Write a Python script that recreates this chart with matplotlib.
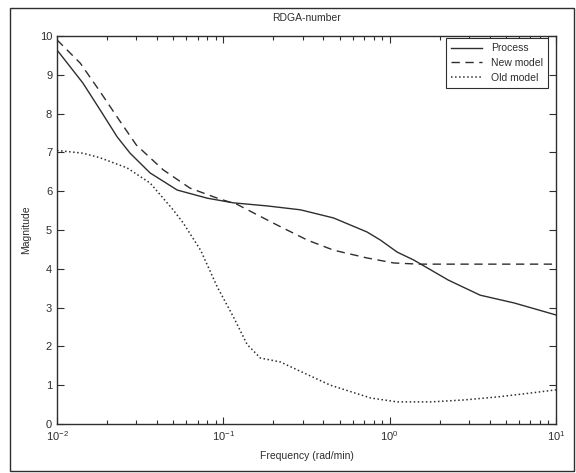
import matplotlib
matplotlib.use("Agg")
import matplotlib.pyplot as plt
from matplotlib.patches import Rectangle
from matplotlib.ticker import LogLocator, FixedLocator

plt.rcParams['font.family'] = ['Liberation Sans', 'DejaVu Sans']

# frequency response magnitudes (rad/min)
process_freq = [0.01, 0.0143, 0.0182, 0.023, 0.0275, 0.0363, 0.0528, 0.08, 0.115,
                0.184, 0.291, 0.46, 0.73, 0.88, 1.11, 1.39, 2.25, 3.5, 5.6, 10]
process_mag = [9.64, 8.79, 8.09, 7.40, 6.98, 6.47, 6.03, 5.82, 5.70,
               5.62, 5.52, 5.31, 4.95, 4.74, 4.43, 4.23, 3.71, 3.32, 3.12, 2.81]

new_freq = [0.01, 0.0138, 0.0182, 0.023, 0.030, 0.0435, 0.063, 0.092, 0.121,
            0.21, 0.32, 0.46, 0.73, 1.06, 1.5, 10]
new_mag = [9.9, 9.3, 8.56, 7.91, 7.19, 6.55, 6.08, 5.82, 5.66,
           5.13, 4.74, 4.48, 4.28, 4.15, 4.12, 4.12]

old_freq = [0.01, 0.0143, 0.0182, 0.0264, 0.0363, 0.0499, 0.0574, 0.073, 0.092,
            0.115, 0.139, 0.167, 0.22, 0.28, 0.44, 0.77, 1.11, 1.77, 2.8, 4.5, 7.1, 10]
old_mag = [7.05, 6.98, 6.86, 6.6, 6.21, 5.52, 5.18, 4.48, 3.53,
           2.76, 2.05, 1.70, 1.60, 1.39, 1.0, 0.67, 0.57, 0.57, 0.62, 0.70, 0.80, 0.88]

ink = '#2e2e2e'

fig = plt.figure(figsize=(5.76, 4.73), dpi=100)
ax = fig.add_axes([57 / 576, 49 / 473, 499 / 576, 388 / 473])

ax.plot(process_freq, process_mag, '-', color=ink, lw=1.0, label='Process')
ax.plot(new_freq, new_mag, '--', color=ink, lw=1.0, dashes=(6, 4), label='New model')
ax.plot(old_freq, old_mag, ':', color=ink, lw=1.1, label='Old model')

ax.set_xscale('log')
ax.set_xlim(0.01, 10)
ax.set_ylim(0, 10)
ax.yaxis.set_major_locator(FixedLocator(range(0, 11)))
ax.xaxis.set_major_locator(LogLocator(base=10, numticks=10))
ax.xaxis.set_minor_locator(LogLocator(base=10, subs=range(2, 10), numticks=10))

ax.tick_params(which='both', direction='in', top=True, right=True,
               colors=ink, labelsize=8, width=0.8)
ax.tick_params(which='major', length=5)
ax.tick_params(which='minor', length=3)
for s in ax.spines.values():
    s.set_color(ink)
    s.set_linewidth(1.0)

ax.set_title('RDGA-number', fontsize=7.5, color=ink, pad=11)
ax.set_xlabel('Frequency (rad/min)', fontsize=7.5, color=ink, labelpad=6)
ax.set_ylabel('Magnitude', fontsize=7.5, color=ink, labelpad=6)

leg = ax.legend(loc='upper right', bbox_to_anchor=(548 / 576, 435 / 473),
                bbox_transform=fig.transFigure, borderaxespad=0,
                fontsize=7.5, fancybox=False, framealpha=1,
                edgecolor=ink, handlelength=3.0, labelspacing=0.45,
                borderpad=0.5, handletextpad=0.8)
leg.get_frame().set_linewidth(0.8)
for t in leg.get_texts():
    t.set_color(ink)

# border around the whole figure
fig.patches.append(Rectangle((10 / 576, 2 / 473), 564 / 576, 463 / 473,
                             transform=fig.transFigure, fill=False,
                             edgecolor=ink, lw=1.0))

fig.savefig('out.png', dpi=100)
